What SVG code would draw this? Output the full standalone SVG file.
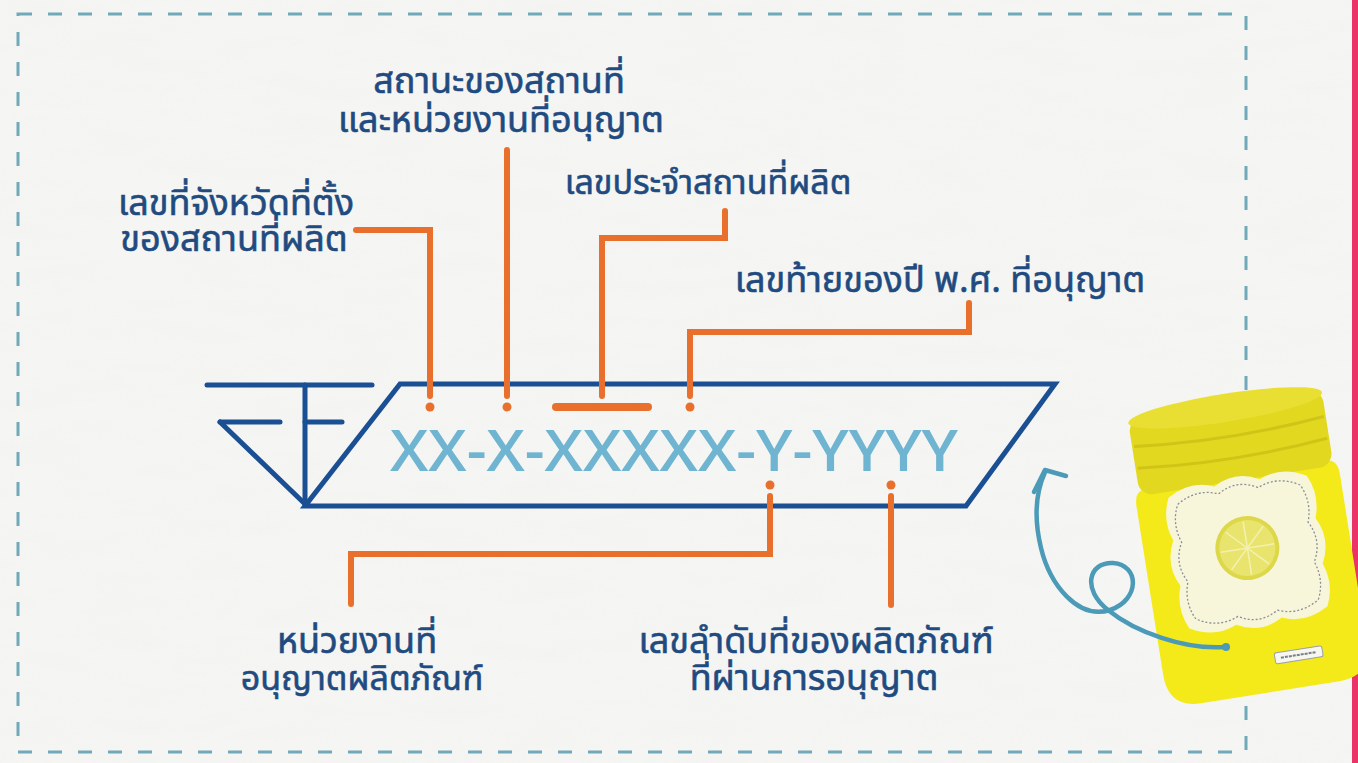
<svg xmlns="http://www.w3.org/2000/svg" width="1358" height="763" viewBox="0 0 1358 763">
  <defs>
    <style>
      .frame { fill: none; stroke: #72a9ba; stroke-width: 3; stroke-dasharray: 14 16; }
      .mark { fill: none; stroke: #1b4f93; stroke-width: 5; stroke-linecap: round; stroke-linejoin: miter; }
      .lead { fill: none; stroke: #e8702c; stroke-width: 6; stroke-linecap: round; stroke-linejoin: miter; }
      .dot { fill: #e8702c; }
      .lbl { font-family: "Noto Sans Thai", "Noto Sans", "Liberation Sans", sans-serif; font-size: 36px; font-weight: 400; fill: #1f4b80; stroke: #1f4b80; stroke-width: 0.6; text-anchor: middle; }
      .code { font-family: "Open Sans", "Liberation Sans", sans-serif; font-weight: 600; font-size: 58px; fill: #6fb4d0; }
      .curl { fill: none; stroke: #4a9ab8; stroke-width: 4.5; stroke-linecap: round; stroke-linejoin: round; }
    </style>
    <filter id="paper" x="0" y="0" width="100%" height="100%">
      <feTurbulence type="fractalNoise" baseFrequency="0.012 0.05" numOctaves="3" seed="4"/>
      <feColorMatrix type="matrix" values="0 0 0 0 0.85  0 0 0 0 0.85  0 0 0 0 0.84  0 0 0 -1.2 0.75"/>
    </filter>
  </defs>

  <!-- paper background -->
  <rect x="0" y="0" width="1358" height="763" fill="#f5f5f3"/>
  <rect x="0" y="0" width="1358" height="763" filter="url(#paper)" opacity="0.35"/>
  <rect x="1352" y="0" width="6" height="763" fill="#ea3468"/>

  <!-- dashed frame -->
  <rect class="frame" x="18" y="14" width="1228" height="738"/>

  <!-- registration mark with code box -->
  <g id="mark">
    <line class="mark" x1="207" y1="385" x2="372" y2="385"/>
    <line class="mark" x1="220" y1="422" x2="280" y2="422"/>
    <line class="mark" x1="305" y1="422" x2="342" y2="422"/>
    <line class="mark" x1="305" y1="385" x2="305" y2="504"/>
    <line class="mark" x1="220" y1="422" x2="305" y2="504"/>
    <path class="mark" d="M400 384 L1055 384 L966 506 L305 506 Z"/>
  </g>

  <g id="code">
    <text class="code" x="390" y="471" textLength="568" lengthAdjust="spacingAndGlyphs">XX-X-XXXXX-Y-YYYY</text>
  </g>

  <!-- leader lines -->
  <g id="connectors">
    <polyline class="lead" points="356,230 430,230 430,396"/>
    <circle class="dot" cx="430" cy="407" r="4.5"/>
    <line class="lead" x1="507" y1="150" x2="507" y2="396"/>
    <circle class="dot" cx="507" cy="407" r="4.5"/>
    <polyline class="lead" points="725,211 725,238 602,238 602,396"/>
    <line class="lead" x1="556" y1="407" x2="648" y2="407" style="stroke-width:8"/>
    <polyline class="lead" points="969,303 969,332 690,332 690,396"/>
    <circle class="dot" cx="690" cy="407" r="4.5"/>
    <circle class="dot" cx="770" cy="485" r="4.5"/>
    <polyline class="lead" points="770,496 770,554 351,554 351,604"/>
    <circle class="dot" cx="891" cy="485" r="4.5"/>
    <line class="lead" x1="891" y1="496" x2="891" y2="605"/>
  </g>

  <!-- labels -->
  <g id="label-status">
    <text class="lbl" x="499" y="93">สถานะของสถานที่</text>
    <text class="lbl" x="501" y="132">และหน่วยงานที่อนุญาต</text>
  </g>
  <g id="label-province">
    <text class="lbl" x="236" y="215">เลขที่จังหวัดที่ตั้ง</text>
    <text class="lbl" x="234" y="251">ของสถานที่ผลิต</text>
  </g>
  <g id="label-site">
    <text class="lbl" x="708" y="194" style="font-size:34px">เลขประจำสถานที่ผลิต</text>
  </g>
  <g id="label-year">
    <text class="lbl" x="940" y="292">เลขท้ายของปี พ.ศ. ที่อนุญาต</text>
  </g>
  <g id="label-agency">
    <text class="lbl" x="357" y="653">หน่วยงานที่</text>
    <text class="lbl" x="362" y="690" style="font-size:34px">อนุญาตผลิตภัณฑ์</text>
  </g>
  <g id="label-serial">
    <text class="lbl" x="816" y="653">เลขลำดับที่ของผลิตภัณฑ์</text>
    <text class="lbl" x="814" y="690">ที่ผ่านการอนุญาต</text>
  </g>

  <!-- lemon jar -->
  <g id="jar" transform="translate(1248 552) rotate(-9)">
    <path d="M-92 -78 L92 -78 Q103 -78 103 -62 L103 108 Q103 142 70 142 L-70 142 Q-103 142 -103 108 L-103 -62 Q-103 -78 -92 -78 Z" fill="#f4ea19"/>
    <rect x="-98" y="-150" width="196" height="78" rx="14" fill="#e2d820"/>
    <ellipse cx="0" cy="-146" rx="98" ry="14" fill="#e9df33"/>
    <path d="M-96 -122 Q0 -112 96 -122" fill="none" stroke="#d0c516" stroke-width="3"/>
    <path d="M-96 -100 Q0 -90 96 -100" fill="none" stroke="#d0c516" stroke-width="3"/>
    <!-- scalloped label -->
    <path d="M-70 -66 Q-46 -80 -23 -70 Q0 -83 23 -70 Q46 -80 70 -66 Q80 -45 72 -23 Q84 0 72 23 Q80 45 70 66 Q46 80 23 70 Q0 83 -23 70 Q-46 80 -70 66 Q-80 45 -72 23 Q-84 0 -72 -23 Q-80 -45 -70 -66 Z" fill="#f8f6da"/>
    <path d="M-62 -58 Q-41 -71 -20 -62 Q0 -74 20 -62 Q41 -71 62 -58 Q71 -40 64 -20 Q75 0 64 20 Q71 40 62 58 Q41 71 20 62 Q0 74 -20 62 Q-41 71 -62 58 Q-71 40 -64 20 Q-75 0 -64 -20 Q-71 -40 -62 -58 Z" fill="none" stroke="#8a8f96" stroke-width="1.3" stroke-dasharray="2 2"/>
    <!-- lemon slice -->
    <circle cx="0" cy="-4" r="32" fill="#dcd84a"/>
    <circle cx="0" cy="-4" r="28" fill="#e9e46e"/>
    <g stroke="#f4f1b0" stroke-width="1.5">
      <line x1="0" y1="-31" x2="0" y2="23"/>
      <line x1="-27" y1="-4" x2="27" y2="-4"/>
      <line x1="-19" y1="-23" x2="19" y2="15"/>
      <line x1="-19" y1="15" x2="19" y2="-23"/>
    </g>
    <!-- small tag -->
    <rect x="10" y="104" width="48" height="11" rx="2" fill="#f7f7f0" stroke="#9aa0a6" stroke-width="1"/>
    <line x1="16" y1="109.5" x2="52" y2="109.5" stroke="#7a8088" stroke-width="2" stroke-dasharray="3 1"/>
  </g>

  <!-- curly pointer to the jar -->
  <g id="pointer">
    <path class="curl" d="M1225 647 C1185 650 1135 632 1108 610 C1082 590 1088 562 1113 563 C1140 565 1140 600 1110 610 C1078 620 1050 585 1041 548 C1033 515 1036 492 1045 472"/>
    <polyline class="curl" points="1034,492 1045,470 1066,476"/>
    <circle cx="1226" cy="647" r="4" fill="#4a9ab8"/>
  </g>
</svg>
